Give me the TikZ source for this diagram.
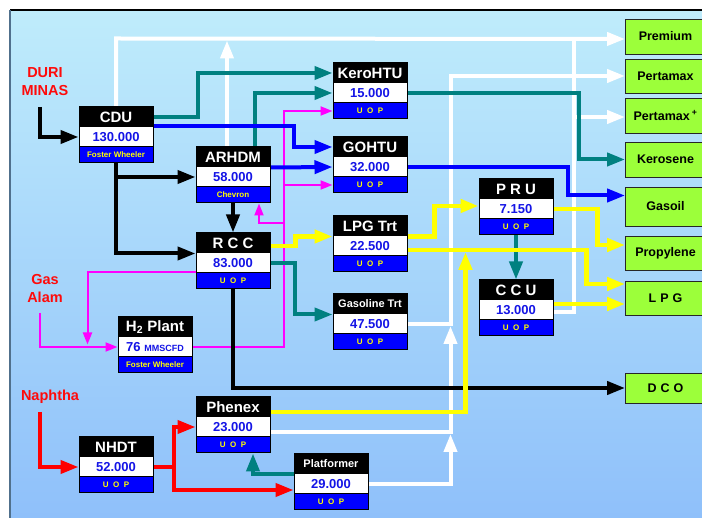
\documentclass[tikz,border=0pt]{standalone}
\usepackage{fontspec}
\setmainfont{Liberation Sans}
\usetikzlibrary{arrows.meta}
\pgfdeclarelayer{back}
\pgfdeclarelayer{lines}
\pgfsetlayers{back,lines,main}
\definecolor{tealc}{HTML}{008080}
\definecolor{bluec}{HTML}{0000FF}
\definecolor{valblue}{HTML}{1414E6}
\definecolor{yel}{HTML}{FFFF00}
\definecolor{magc}{HTML}{FF00FF}
\definecolor{redc}{HTML}{FF0A0A}
\definecolor{grn}{HTML}{9CFF3A}
\definecolor{bgtop}{HTML}{BFECFB}
\definecolor{bgbot}{HTML}{8FC0FA}
\definecolor{edgec}{HTML}{50708C}
\newcommand\uopt{{\fontsize{8}{8}\selectfont U\kern4.5pt O\kern4.5pt P}}
\newcommand\punit[6]{%
  \node[hdr] (#1) at ({#2},{#3+10}) {#4};
  \node[val] (#1v) at ({#2},{#3+30}) {#5};
  \node[ftr] (#1f) at ({#2},{#3+48}) {#6};}
\tikzset{
  hdr/.style={rectangle, draw=black, fill=black, text=white, line width=1pt, inner sep=0pt,
    minimum width=74pt, minimum height=20pt, font=\fontsize{15}{15}\selectfont\bfseries},
  val/.style={rectangle, draw=black, fill=white, text=valblue, line width=1pt, inner sep=0pt,
    minimum width=74pt, minimum height=20pt, font=\fontsize{13}{13}\selectfont\bfseries},
  ftr/.style={rectangle, draw=black, fill=bluec, text=yel, line width=1pt, inner sep=0pt,
    minimum width=74pt, minimum height=16pt, font=\fontsize{8}{8}\selectfont\bfseries},
  prod/.style={rectangle, draw=black!85, fill=grn, line width=0.9pt, inner sep=0pt,
    minimum width=80pt, font=\fontsize{12.5}{12.5}\selectfont\bfseries},
  lbl/.style={text=redc, font=\fontsize{14.5}{18}\selectfont\bfseries, align=center},
  arr/.style={-{Triangle[length=18pt,width=13pt]}},
  marr/.style={-{Triangle[length=12pt,width=9pt]}},
  wline/.style={draw=white, line width=4pt},
  mline/.style={draw=magc, line width=2pt},
  kline/.style={draw=black, line width=4pt},
  tline/.style={draw=tealc, line width=4pt},
  bline/.style={draw=bluec, line width=4pt},
  yline/.style={draw=yel, line width=4.5pt},
  rline/.style={draw=red, line width=4pt},
}
\begin{document}
\begin{tikzpicture}[x=1pt,y=-1pt]
\clip (0,0) rectangle (702,518);
\begin{pgfonlayer}{back}
\fill[white] (0,0) rectangle (702,518);
\shade[top color=bgtop, bottom color=bgbot] (10,10) rectangle (702,518);
\draw[black, line width=1.2pt] (10,10) -- (702,10);
\draw[edgec, line width=2pt] (10,10) -- (10,518);
\end{pgfonlayer}

% process units
\punit{cdu}{116}{107}{CDU}{130.000}{Foster Wheeler}
\punit{arhdm}{233}{147}{ARHDM}{58.000}{Chevron}
\punit{kero}{370}{63}{KeroHTU}{15.000}{\uopt}
\punit{gohtu}{370}{137}{GOHTU}{32.000}{\uopt}
\punit{rcc}{233}{233}{R C C}{83.000}{\uopt}
\punit{lpg}{370}{216}{LPG Trt}{22.500}{\uopt}
\punit{gas}{370}{294}{\fontsize{11}{11}\selectfont Gasoline Trt}{47.500}{\uopt}
\punit{pru}{516}{179}{P R U}{7.150}{\uopt}
\punit{ccu}{516}{280}{C C U}{13.000}{\uopt}
\punit{htwo}{155}{317}{H\textsubscript{2} Plant}{76 {\fontsize{9}{9}\selectfont MMSCFD}}{Foster Wheeler}
\punit{nhdt}{116}{437}{NHDT}{52.000}{\uopt}
\punit{phenex}{233}{397}{Phenex}{23.000}{\uopt}
\punit{plat}{331}{454}{\fontsize{11}{11}\selectfont Platformer}{29.000}{\uopt}

% products
\node[prod, minimum height=35pt] (premium) at (665.5,36.5) {Premium};
\node[prod, minimum height=34pt] (pertamax) at (665.5,76) {Pertamax};
\node[prod, minimum height=35pt] (pertamaxp) at (665.5,115.5) {Pertamax\,\textsuperscript{+}};
\node[prod, minimum height=35pt] (kerosene) at (665.5,159.5) {Kerosene};
\node[prod, minimum height=39pt] (gasoil) at (665.5,206.5) {Gasoil};
\node[prod, minimum height=34pt] (propylene) at (665.5,253) {Propylene};
\node[prod, minimum height=34pt] (lpgp) at (665.5,298) {L\kern4pt P\kern4pt G};
\node[prod, minimum height=30pt] (dco) at (665.5,388) {D\kern4pt C\kern4pt O};

% feed labels
\node[lbl] (duril) at (45,82) {DURI\\MINAS};
\node[lbl] (gasl) at (45,289) {Gas\\Alam};
\node[lbl] (naphl) at (50,397) {Naphtha};
\coordinate (duri) at (40,107);
\coordinate (gasalam) at (40,313);
\coordinate (naph) at (40,412);
\coordinate (mgx) at (283,0);
\coordinate (mg3) at (283,223);
\coordinate (wj) at (573,117);

\begin{pgfonlayer}{lines}
% white (gasoline pool)
\draw[wline,arr] (cdu.north) -- ++(0,-68) -- ([yshift=-2.5pt]premium.west);
\draw[wline,arr] ([xshift=-6pt]arhdm.north) -- ++(0,-106);
\draw[wline,arr] (platv.east) -- ++(82,0) -- ++(0,-50);
\draw[wline,arr] ([yshift=-5pt]phenexv.east) -- ++(180,0) -- ++(0,-106);
\draw[wline,arr] (gasv.east) -- ++(43,0) |- (pertamax.west);
\draw[wline] ([yshift=-2pt]ccuv.east) -- ++(20,0) -- ++(0,-273);
\draw[wline,arr] (wj) -- (wj -| pertamaxp.west);
% magenta (hydrogen)
\draw[mline,marr] (htwov.east) -- ++(91,0) |- (kerof.west);
\draw[mline,marr] (gohtuf.west -| mgx) -- (gohtuf.west);
\draw[mline,marr] (mg3) -| ([xshift=26pt]arhdmf.south);
\draw[mline,marr] (rccf.north west) -- ++(-108,0) -- ++(0,72);
\draw[mline,marr] (gasalam) |- (htwov.west);
% black
\draw[kline,arr] (duri) |- (cduv.west);
\draw[kline,arr] (cduf.south) |- (arhdmv.west);
\draw[kline,arr] (cduf.south) |- (rcc.south west);
\draw[kline,arr] (arhdmf.south) -- (rcc.north);
\draw[kline,arr] (rccf.south) |- (dco.west);
% teal
\draw[tline,arr] (cdu.east) -- ++(44,0) |- (kero.west);
\draw[tline,arr] ([xshift=22pt]arhdm.north) |- (kerov.west);
\draw[tline,arr] (rccv.east) -- ++(24,0) |- (gas.south west);
\draw[tline,arr] (kerov.east) -- ++(171,0) |- (kerosene.west);
\draw[tline,arr] (pruf.south) -- (ccu.north);
\draw[tline,arr] (plat.south west) -| ([xshift=20pt]phenexf.south);
% blue
\draw[bline,arr] (cduv.north east) -- ++(140,0) |- (gohtu.west);
\draw[bline,arr] (arhdm.south east) -- (gohtuv.west);
\draw[bline,arr] (gohtuv.east) -- ++(160,0) |- ([yshift=11pt]gasoil.west);
% yellow (LPG)
\draw[yline,arr] ([yshift=-3pt]rcc.east) -- ++(25,0) |- (lpg.south west);
\draw[yline,arr] (lpg.south east) -- ++(27,0) |- ([yshift=3pt]pruv.west);
\draw[yline,arr] ([yshift=-4pt]lpgv.east) -- ++(179,0) |- ([yshift=14pt]lpgp.west);
\draw[yline,arr] ([yshift=-5pt]phenex.east) -- ++(195,0) -- ++(0,-160);
\draw[yline,arr] (pruv.east) -- ++(44,0) |- ([yshift=8pt]propylene.west);
\draw[yline,arr] ([yshift=6pt]ccuv.east) -- ([yshift=-6pt]lpgp.west);
% red (naphtha)
\draw[rline,arr] (naph) |- (nhdtv.west);
\draw[rline,arr] (nhdtv.east) -- ++(20,0) |- (phenexv.west);
\draw[rline,arr] (nhdtv.east) -- ++(20,0) |- ([yshift=-6pt]platv.west);
\end{pgfonlayer}
\end{tikzpicture}
\end{document}
